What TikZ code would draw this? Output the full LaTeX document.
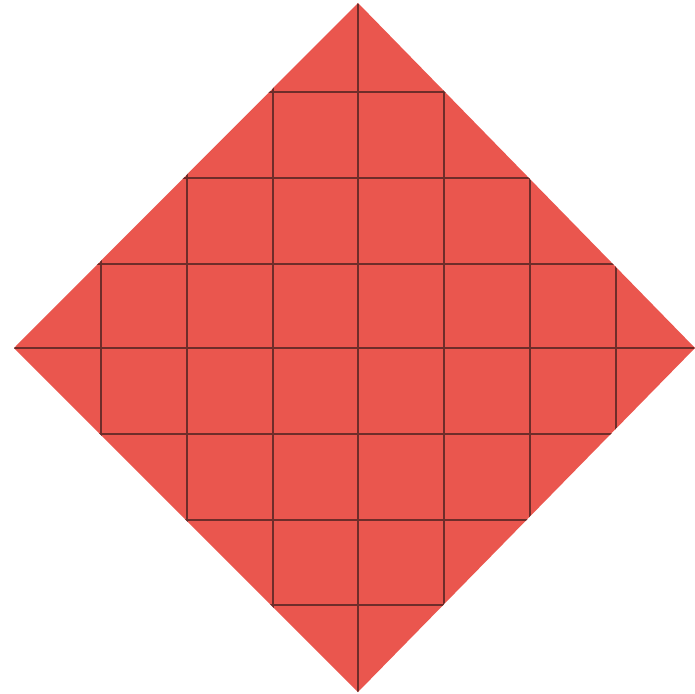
\documentclass[tikz,border=0pt]{standalone}
\definecolor{paper}{RGB}{234,86,78}
\definecolor{crease}{RGB}{110,45,42}
\begin{document}
\begin{tikzpicture}[x=1pt,y=-1pt,
  gridline/.style={draw=crease,line width=2pt}]
\useasboundingbox (0,0) rectangle (695,693);
\fill[paper] (358,3) -- (695,348) -- (358,692) -- (14,348) -- cycle;
\begin{scope}
\clip (358,3) -- (695,348) -- (358,692) -- (14,348) -- cycle;
\foreach \x in {101,187,273,358,444,530,616}
  \draw[gridline] (\x,0) -- (\x,693);
\foreach \y in {92,178,264,348,434,520,605}
  \draw[gridline] (0,\y) -- (695,\y);
\end{scope}
\end{tikzpicture}
\end{document}
